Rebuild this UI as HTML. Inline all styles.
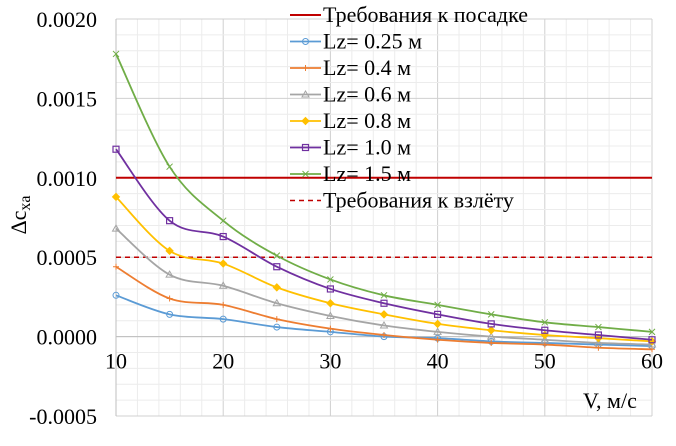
<!DOCTYPE html>
<html><head><meta charset="utf-8"><style>
body{margin:0;background:#fff;}
svg{display:block;}
text{font-family:"Liberation Serif","Times New Roman",serif;}
</style></head><body>
<svg id="chart" width="676" height="446" viewBox="0 0 676 446" font-family="Liberation Serif, serif">
<rect x="0" y="0" width="676" height="446" fill="#fff"/>
<g id="grid"></g>
<g id="axes"></g>
<g id="series"></g>
<text x="26" y="215" font-size="22" text-anchor="middle" transform="rotate(-90 26 215)">Δc<tspan font-size="16" dy="4">xa</tspan></text>
<text x="583" y="408" font-size="22">V, м/с</text>
<g id="legend"></g>
</svg>
<script>
const xValues = [10,15,20,25,30,35,40,45,50,55,60];
const seriesNames = ["Lz= 0.25 м","Lz= 0.4 м","Lz= 0.6 м","Lz= 0.8 м","Lz= 1.0 м","Lz= 1.5 м"];
const s025 = [0.00026,0.00014,0.00011,0.00006,0.00003,0.00000,-0.00001,-0.00003,-0.00004,-0.00005,-0.00006];
const s04  = [0.00044,0.00024,0.00020,0.00011,0.00005,0.00001,-0.00002,-0.00004,-0.00005,-0.00007,-0.00008];
const s06  = [0.00068,0.00039,0.00032,0.00021,0.00013,0.00007,0.00003,0.00000,-0.00002,-0.00004,-0.00005];
const s08  = [0.00088,0.00054,0.00046,0.00031,0.00021,0.00014,0.00008,0.00004,0.00001,-0.00001,-0.00003];
const s10  = [0.00118,0.00073,0.00063,0.00044,0.00030,0.00021,0.00014,0.00008,0.00004,0.00001,-0.00002];
const s15  = [0.00178,0.00107,0.00073,0.00051,0.00036,0.00026,0.00020,0.00014,0.00009,0.00006,0.00003];
const landingReq = 0.0010;
const takeoffReq = 0.0005;
const yTicks = [-0.0005,0,0.0005,0.0010,0.0015,0.0020];
const yTickLabels = ["-0.0005","0.0000","0.0005","0.0010","0.0015","0.0020"];
const xTicks = [10,20,30,40,50,60];

const NS="http://www.w3.org/2000/svg";
const X0=116,X1=652,Y0=416,Y1=19;
const xs=v=>X0+(v-10)/(60-10)*(X1-X0);
const ys=v=>Y0-(v-(-0.0005))/(0.0020-(-0.0005))*(Y0-Y1);
function mk(tag,attrs,parent){const e=document.createElementNS(NS,tag);for(const k in attrs)e.setAttribute(k,attrs[k]);parent.appendChild(e);return e;}
const grid=document.getElementById('grid'),axes=document.getElementById('axes'),ser=document.getElementById('series'),leg=document.getElementById('legend');
for(let v=10;v<=60;v+=2){const l=mk('line',{x1:xs(v),x2:xs(v),y1:Y1,y2:Y0,stroke:v%10===0?'#d0d0d0':'#ececec','stroke-width':1},grid);

}
for(let i=-5;i<=20;i++){const v=i*0.0001;const l=mk('line',{x1:X0,x2:X1,y1:ys(v),y2:ys(v),stroke:i%5===0?'#d0d0d0':'#ececec','stroke-width':1},grid);

}
mk('line',{x1:X0,x2:X0,y1:Y1,y2:Y0,stroke:'#bfbfbf'},axes);
mk('line',{x1:X0,x2:X1,y1:ys(0),y2:ys(0),stroke:'#bfbfbf'},axes);
yTicks.forEach((v,i)=>{const t=mk('text',{x:97,y:ys(v)+8,'font-size':22,'text-anchor':'end'},axes);t.textContent=yTickLabels[i];

});
xTicks.forEach(v=>{const t=mk('text',{x:xs(v),y:ys(0)+32,'font-size':22,'text-anchor':'middle'},axes);t.textContent=v;

});
const rl=mk('line',{x1:X0,x2:X1,y1:ys(landingReq),y2:ys(landingReq),stroke:'#c00000','stroke-width':2},ser);


const tl=mk('line',{x1:X0,x2:X1,y1:ys(takeoffReq),y2:ys(takeoffReq),stroke:'#c00000','stroke-width':1.5,'stroke-dasharray':'5,4'},ser);


const data=[s025,s04,s06,s08,s10,s15];
const colors=['#5b9bd5','#ed7d31','#a5a5a5','#ffc000','#7030a0','#70ad47'];
const markers=['circle','plus','tri','diamond','square','x'];
function marker(type,x,y,c,p){
 if(type==='circle')return mk('circle',{cx:x,cy:y,r:3,fill:'none',stroke:c,'stroke-width':1},p);
 if(type==='plus')return mk('path',{d:`M${x-3},${y}H${x+3}M${x},${y-3}V${y+3}`,stroke:c,'stroke-width':1},p);
 if(type==='tri')return mk('path',{d:`M${x},${y-3.5}L${x+3.5},${y+2.5}L${x-3.5},${y+2.5}Z`,fill:'none',stroke:c,'stroke-width':1},p);
 if(type==='diamond')return mk('path',{d:`M${x},${y-3.5}L${x+3.5},${y}L${x},${y+3.5}L${x-3.5},${y}Z`,fill:c,stroke:c},p);
 if(type==='square')return mk('rect',{x:x-3,y:y-3,width:6,height:6,fill:'none',stroke:c,'stroke-width':1.2},p);
 return mk('path',{d:`M${x-3},${y-3}L${x+3},${y+3}M${x+3},${y-3}L${x-3},${y+3}`,stroke:c,'stroke-width':1},p);
}
function smooth(pts){let d=`M${pts[0][0]},${pts[0][1]}`;for(let i=0;i<pts.length-1;i++){const p0=pts[Math.max(i-1,0)],p1=pts[i],p2=pts[i+1],p3=pts[Math.min(i+2,pts.length-1)];
const c1=[p1[0]+(p2[0]-p0[0])/6,p1[1]+(p2[1]-p0[1])/6],c2=[p2[0]-(p3[0]-p1[0])/6,p2[1]-(p3[1]-p1[1])/6];
d+=`C${c1[0]},${c1[1]} ${c2[0]},${c2[1]} ${p2[0]},${p2[1]}`;}return d;}
data.forEach((arr,si)=>{const g=mk('g',{},ser);


const pts=arr.map((v,i)=>[xs(xValues[i]),ys(v)]);
mk('path',{d:smooth(pts),fill:'none',stroke:colors[si],'stroke-width':1.8},g);
pts.forEach(p=>{const m=marker(markers[si],p[0],p[1],colors[si],g);

});});
const labels=["Требования к посадке",...seriesNames,"Требования к взлёту"];
labels.forEach((lab,i)=>{const y=15+i*26.5;const g=mk('g',{},leg);


if(i===0)mk('line',{x1:290,x2:321,y1:y,y2:y,stroke:'#c00000','stroke-width':2},g);
else if(i===labels.length-1)mk('line',{x1:290,x2:321,y1:y,y2:y,stroke:'#c00000','stroke-width':1.5,'stroke-dasharray':'5,4'},g);
else{mk('line',{x1:290,x2:321,y1:y,y2:y,stroke:colors[i-1],'stroke-width':1.8},g);marker(markers[i-1],305.5,y,colors[i-1],g);}
const t=mk('text',{x:323,y:y+7,'font-size':22},g);t.textContent=lab;});
</script>
</body></html>
